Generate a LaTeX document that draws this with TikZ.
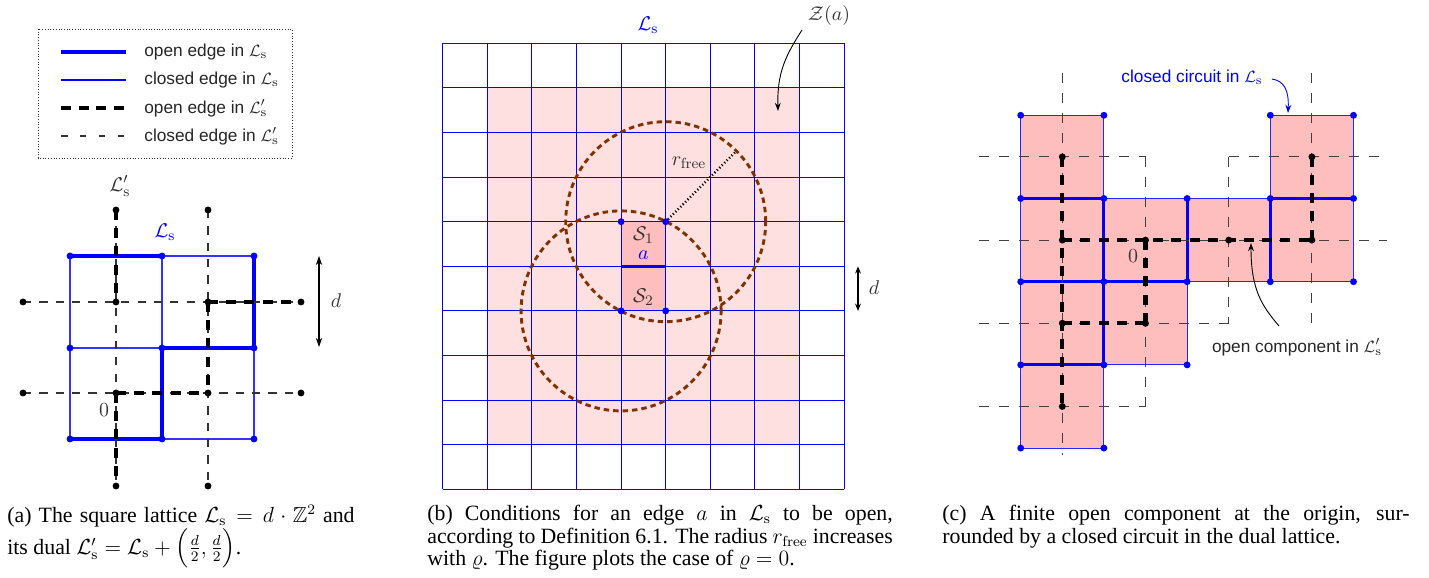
\documentclass[tikz,border=0pt]{standalone}
\usepackage{amsmath,amssymb}
\usepackage[no-math]{fontspec}
\setmainfont{Liberation Serif}
\setsansfont{Liberation Sans}
\usetikzlibrary{arrows.meta}
\definecolor{lpink}{RGB}{255,224,224}
\definecolor{dpink}{RGB}{255,190,190}
\definecolor{brn}{RGB}{128,51,0}
\newcommand\mlab{\fontsize{11}{13}\selectfont}
\newcommand\slab{\fontsize{9.5}{11}\selectfont\sffamily}
\tikzset{
  thinB/.style={blue, line width=0.6pt},
  thickB/.style={blue, line width=1.7pt},
  dualthin/.style={black!80, line width=0.6pt, dash pattern=on 4.5pt off 4.5pt},
  dualthick/.style={black, line width=2.3pt, dash pattern=on 5.5pt off 4.5pt},
  circ/.style={brn, line width=1.6pt, dash pattern=on 3pt off 2.2pt},
  ann/.style={black, line width=0.5pt, -{Stealth[length=4.5pt,width=3.2pt]}},
  capt/.style={anchor=north west, inner sep=0pt, text width=#1, align=justify, font=\fontsize{12}{12.4}\selectfont},
}
\begin{document}
\begin{tikzpicture}[x=0.55pt,y=-0.55pt]
\useasboundingbox (0,0) rectangle (1429,578);

% ---------------- legend ----------------
\draw[black!80, line width=0.5pt, densely dotted] (38,29) rectangle (292,158);
\coordinate (l1a) at (61,52);  \coordinate (l1b) at (126,52);
\coordinate (l2a) at (61,80);  \coordinate (l2b) at (126,80);
\coordinate (l3a) at (61,108); \coordinate (l3b) at (126,108);
\coordinate (l4a) at (61,136); \coordinate (l4b) at (126,136);
\draw[thickB] (l1a) -- (l1b);
\draw[thinB] (l2a) -- (l2b);
\draw[dualthick, dash pattern=on 5.5pt off 4.2pt] (l3a) -- (l3b);
\draw[dualthin, dash pattern=on 3.6pt off 6.8pt] (l4a) -- (l4b);
\node[anchor=west, inner sep=0pt, font=\slab, text=black!85] (t1) at (144,52) {open edge in $\mathcal{L}_\mathrm{s}$};
\node[anchor=west, inner sep=0pt, font=\slab, text=black!85] (t2) at (144,80) {closed edge in $\mathcal{L}_\mathrm{s}$};
\node[anchor=west, inner sep=0pt, font=\slab, text=black!85] (t3) at (144,108) {open edge in $\mathcal{L}'_\mathrm{s}$};
\node[anchor=west, inner sep=0pt, font=\slab, text=black!85] (t4) at (144,136) {closed edge in $\mathcal{L}'_\mathrm{s}$};

% ---------------- panel (a) ----------------
\draw[thinB, blue!80] (70,256) rectangle (254,439);
\draw[thinB, blue!80] (70,348) -- (254,348);
\draw[thinB, blue!80] (162,256) -- (162,439);
\draw[thickB] (70,256) -- (162,256);
\draw[thickB] (254,256) -- (254,348) -- (162,348) -- (162,439) -- (70,439);
\foreach \x in {70,162,254} \foreach \y in {256,348,439} \fill[blue] (\x,\y) circle (1.9pt);
% dual
\draw[dualthin] (116,210) -- (116,486);
\draw[dualthin] (208,210) -- (208,486);
\draw[dualthin] (23,302) -- (301,302);
\draw[dualthin] (23,393) -- (301,393);
\draw[dualthick] (116,210) -- (116,302);
\draw[dualthick] (116,393) -- (116,486);
\draw[dualthick] (208,302) -- (301,302);
\draw[dualthick] (208,302) -- (208,393);
\draw[dualthick] (116,393) -- (208,393);
\foreach \p in {(116,210),(208,210),(23,302),(116,302),(208,302),(301,302),(23,393),(116,393),(208,393),(301,393),(116,486),(208,486)}
  \fill[black] \p circle (1.9pt);
\node[font=\mlab, text=black!80] (aLd) at (120,186) {$\mathcal{L}'_\mathrm{s}$};
\node[font=\mlab, text=blue] (aL) at (165,232) {$\mathcal{L}_\mathrm{s}$};
\node[font=\mlab, text=black!80] (a0) at (104,410) {$0$};
\coordinate (ad1) at (319,256); \coordinate (ad2) at (319,347);
\draw[black, line width=0.6pt, {Stealth[length=5pt,width=3.5pt]}-{Stealth[length=5pt,width=3.5pt]}] (ad1) -- (ad2);
\node[font=\mlab, text=black!80] (adl) at (336,301) {$d$};

% ---------------- panel (b) ----------------
\fill[lpink] (487.3,87.9) rectangle (799.5,444.7);
\fill[dpink] (621.1,221.7) rectangle (665.7,310.9);
\foreach \i in {0,...,9} \draw[thinB] ({442.7+44.6*\i},43.3) -- ({442.7+44.6*\i},489.3);
\foreach \j in {0,...,10} \draw[thinB] (442.7,{43.3+44.6*\j}) -- (844.1,{43.3+44.6*\j});
\draw[thickB, line width=1.4pt] (621.1,266.3) -- (665.7,266.3);
\coordinate (c1) at (665.7,221.7);
\coordinate (c2) at (621.1,310.9);
\draw[circ] (c1) circle (55pt);
\draw[circ] (c2) circle (55pt);
\coordinate (rend) at (736.4,151);
\draw[black, line width=1.3pt, dash pattern=on 0.6pt off 1.3pt] (c1) -- (rend);
\foreach \p in {(621.1,221.7),(665.7,221.7),(621.1,310.9),(665.7,310.9)} \fill[blue] \p circle (1.9pt);
\node[font=\mlab, text=black!80] (rf) at (689,163) {$r_\mathrm{free}$};
\node[font=\mlab, text=black!80] (s1) at (643.4,235) {$\mathcal{S}_1$};
\node[font=\mlab, text=blue] (al) at (643.4,255) {$a$};
\node[font=\mlab, text=black!80] (s2) at (643.4,297) {$\mathcal{S}_2$};
\node[font=\mlab, text=blue] (bL) at (648,25) {$\mathcal{L}_\mathrm{s}$};
\node[font=\mlab, text=black!80] (za) at (829,16) {$\mathcal{Z}(a)$};
\coordinate (zs) at (802,30);
\coordinate (zt) at (778,111);
\draw[ann] (zs) .. controls (786,55) and (777,72) .. (zt);
\coordinate (bd1) at (858,266.3); \coordinate (bd2) at (858,310.9);
\draw[black, line width=0.6pt, {Stealth[length=4pt,width=3.2pt]}-{Stealth[length=4pt,width=3.2pt]}] (bd1) -- (bd2);
\node[font=\mlab, text=black!80] (bdl) at (874,288) {$d$};

% ---------------- panel (c) ----------------
\def\Xa{1020.7}\def\Xb{1103.9}\def\Xc{1187.1}\def\Xd{1270.3}\def\Xe{1353.5}
\def\Ya{115.3}\def\Yb{198.5}\def\Yc{281.7}\def\Yd{364.9}\def\Ye{448.1}
\filldraw[fill=dpink, draw=blue!85, line width=0.6pt]
  (\Xa,\Ya) -- (\Xb,\Ya) -- (\Xb,\Yb) -- (\Xd,\Yb) -- (\Xd,\Ya) -- (\Xe,\Ya) -- (\Xe,\Yc)
  -- (\Xc,\Yc) -- (\Xc,\Yd) -- (\Xb,\Yd) -- (\Xb,\Ye) -- (\Xa,\Ye) -- cycle;
\draw[thickB] (\Xa,\Yb) -- (\Xb,\Yb);
\draw[thickB] (\Xb,\Yb) -- (\Xb,\Yd);
\draw[thickB] (\Xa,\Yc) -- (\Xc,\Yc);
\draw[thickB] (\Xc,\Yb) -- (\Xc,\Yc);
\draw[thickB] (\Xa,\Yd) -- (\Xb,\Yd);
\draw[thickB] (\Xd,\Yb) -- (\Xd,\Yc);
\draw[thickB] (\Xd,\Yb) -- (\Xe,\Yb);
\def\Ua{1062.3}\def\Ub{1145.5}\def\Uc{1228.7}\def\Ud{1311.9}
\def\Va{156.9}\def\Vb{240.1}\def\Vc{323.3}\def\Vd{406.5}
\tikzset{cthin/.style={dualthin, black!75, dash pattern=on 5.5pt off 5.5pt}}
\draw[cthin] (979.3,\Va) -- (\Ub,\Va);
\draw[cthin] (\Ub,\Va) -- (\Ub,\Vd);
\draw[cthin] (\Uc,\Va) -- (1386.7,\Va);
\draw[cthin] (\Uc,\Va) -- (\Uc,\Vc);
\draw[cthin] (979.3,\Vb) -- (1386.7,\Vb);
\draw[cthin] (979.3,\Vc) -- (\Uc,\Vc);
\draw[cthin] (979.3,\Vd) -- (\Ub,\Vd);
\draw[cthin] (\Ua,73) -- (\Ua,455);
\draw[cthin] (\Ud,73) -- (\Ud,\Vc);
\draw[dualthick] (\Ua,\Va) -- (\Ua,\Vd);
\draw[dualthick] (\Ua,\Vb) -- (\Ud,\Vb);
\draw[dualthick] (\Ub,\Vb) -- (\Ub,\Vc);
\draw[dualthick] (\Ua,\Vc) -- (\Ub,\Vc);
\draw[dualthick] (\Ud,\Va) -- (\Ud,\Vb);
\foreach \p in {(\Xa,\Ya),(\Xb,\Ya),(\Xd,\Ya),(\Xe,\Ya),(\Xa,\Yb),(\Xb,\Yb),(\Xc,\Yb),(\Xd,\Yb),(\Xe,\Yb),
  (\Xa,\Yc),(\Xb,\Yc),(\Xc,\Yc),(\Xd,\Yc),(\Xe,\Yc),(\Xa,\Yd),(\Xb,\Yd),(\Xc,\Yd),(\Xa,\Ye),(\Xb,\Ye)}
  \fill[blue] \p circle (1.9pt);
\foreach \p in {(\Ua,\Va),(\Ua,\Vb),(\Ua,\Vc),(\Ua,\Vd),(\Ub,\Vb),(\Ub,\Vc),(\Uc,\Vb),(\Ud,\Vb),(\Ud,\Va)}
  \fill[black] \p circle (1.9pt);
\node[font=\mlab, text=black!80] (c0) at (1133,256) {$0$};
\node[font=\slab, text=blue] (cc) at (1192,77) {closed circuit in $\mathcal{L}_\mathrm{s}$};
\coordinate (ccs) at (1272,79);
\coordinate (cct) at (1288,113);
\draw[ann, blue] (ccs) .. controls (1284,81) and (1289,90) .. (cct);
\node[font=\slab, text=black!85] (oc) at (1297,347) {open component in $\mathcal{L}'_\mathrm{s}$};
\coordinate (ocs) at (1279,326);
\coordinate (oct) at (1251,243);
\draw[ann] (ocs) .. controls (1262,306) and (1251,290) .. (oct);

% ---------------- captions ----------------
\node[capt=191pt] (capa) at (7,505) {(a) The square lattice $\mathcal{L}_\mathrm{s} = d\cdot\mathbb{Z}^2$ and\linebreak its dual $\mathcal{L}'_\mathrm{s} = \mathcal{L}_\mathrm{s} + \Bigl(\frac{d}{2},\frac{d}{2}\Bigr)$.};
\node[capt=256pt] (capb) at (427,505) {(b) Conditions for an edge $a$ in $\mathcal{L}_\mathrm{s}$ to be open,\linebreak according to Definition 6.1. The radius $r_\mathrm{free}$ increases\linebreak with $\varrho$. The figure plots the case of $\varrho=0$.};
\node[capt=257pt] (capc) at (942,505) {(c) A finite open component at the origin, sur-\linebreak rounded by a closed circuit in the dual lattice.};
\end{tikzpicture}
\end{document}
